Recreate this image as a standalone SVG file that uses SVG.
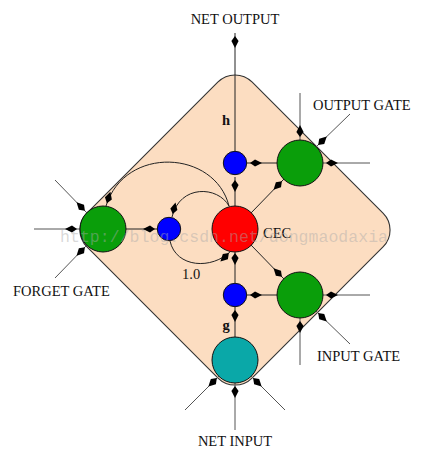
<svg xmlns="http://www.w3.org/2000/svg" width="428" height="452" viewBox="0 0 428 452">
<style>
.lbl{font-family:"Liberation Serif","Times New Roman",serif;font-size:14.5px;fill:#111}
.c{stroke:#111;stroke-width:1}
.ln{stroke:#222;stroke-width:1;fill:none;marker-end:url(#d)}
.ext{stroke:#555;stroke-width:1;fill:none;marker-end:url(#d)}
</style>
<defs>
<marker id="d" markerUnits="userSpaceOnUse" markerWidth="16" markerHeight="8" viewBox="-16 -4 16 8" refX="0" refY="0" orient="auto" overflow="visible">
<path d="M-3,0 L-8,-3.6 L-15,0 L-8,3.6 Z" fill="#000"/>
</marker>
</defs>
<rect width="428" height="452" fill="#fff"/>
<g id="cell">
<rect x="118.33" y="113.33" width="233.34" height="233.34" rx="24" fill="#FCDDC1" stroke="#333" stroke-width="1.1" transform="rotate(45 235 230)"/>
</g>
<g id="connectors">
<line class="ln" x1="235" y1="152" x2="235" y2="33"/>
<line class="ln" x1="277" y1="163" x2="247" y2="163"/>
<line class="ln" x1="235" y1="206" x2="235" y2="177"/>
<line class="ln" x1="251" y1="213" x2="284" y2="179"/>
<line class="ln" x1="251" y1="245" x2="284" y2="279"/>
<line class="ln" x1="277" y1="295" x2="247" y2="295"/>
<line class="ln" x1="235" y1="283" x2="235" y2="250"/>
<line class="ln" x1="235" y1="337" x2="235" y2="307"/>
<line class="ln" x1="126" y1="229" x2="158" y2="229"/>
<path class="ln" d="M229,206 C218,186 180,184 172,217"/>
<path class="ln" d="M170,241 C176,268 212,270 231,251"/>
<path class="ln" d="M229,206 C215,150 125,145 106,206"/>
<line class="ext" x1="34" y1="229" x2="80" y2="229"/>
<line class="ext" x1="55" y1="180" x2="87" y2="213"/>
<line class="ext" x1="55" y1="278" x2="87" y2="245"/>
<line class="ext" x1="300" y1="93" x2="300" y2="140"/>
<line class="ext" x1="350" y1="114" x2="316" y2="147"/>
<line class="ext" x1="370" y1="163" x2="323" y2="163"/>
<line class="ext" x1="370" y1="295" x2="323" y2="295"/>
<line class="ext" x1="350" y1="344" x2="316" y2="311"/>
<line class="ext" x1="300" y1="365" x2="300" y2="318"/>
<line class="ext" x1="235" y1="430" x2="235" y2="383"/>
<line class="ext" x1="185" y1="410" x2="219" y2="376"/>
<line class="ext" x1="285" y1="410" x2="251" y2="376"/>
</g>
<g id="forget-gate"><circle class="c" cx="103" cy="229" r="23" fill="#0A9E0A"/></g>
<g id="output-gate"><circle class="c" cx="300" cy="163" r="23" fill="#0A9E0A"/></g>
<g id="input-gate"><circle class="c" cx="300" cy="295" r="23" fill="#0A9E0A"/></g>
<g id="net-input"><circle class="c" cx="235" cy="360" r="23" fill="#0AA8A8"/></g>
<g id="cec"><circle class="c" cx="235" cy="229" r="23" fill="#FF0000"/></g>
<g id="mult-h"><circle class="c" cx="235" cy="163" r="11.7" fill="#0000FF"/></g>
<g id="mult-f"><circle class="c" cx="169" cy="229" r="11.7" fill="#0000FF"/></g>
<g id="mult-g"><circle class="c" cx="235" cy="295" r="11.7" fill="#0000FF"/></g>
<g id="labels">
<text class="lbl" x="235" y="24" text-anchor="middle">NET OUTPUT</text>
<text class="lbl" x="313" y="110">OUTPUT GATE</text>
<text class="lbl" x="13" y="296">FORGET GATE</text>
<text class="lbl" x="317" y="361">INPUT GATE</text>
<text class="lbl" x="235" y="446" text-anchor="middle">NET INPUT</text>
<text class="lbl" x="226" y="125" text-anchor="middle" font-weight="bold">h</text>
<text class="lbl" x="226" y="330" text-anchor="middle" font-weight="bold">g</text>
<text class="lbl" x="263" y="238">CEC</text>
<text class="lbl" x="182" y="279">1.0</text>
</g>
<text x="60" y="242" font-family="'Liberation Mono','Courier New',monospace" font-size="16.5" fill="#aaa" fill-opacity="0.45" textLength="328">http://blog.csdn.net/dongmaodaxia</text>
</svg>
